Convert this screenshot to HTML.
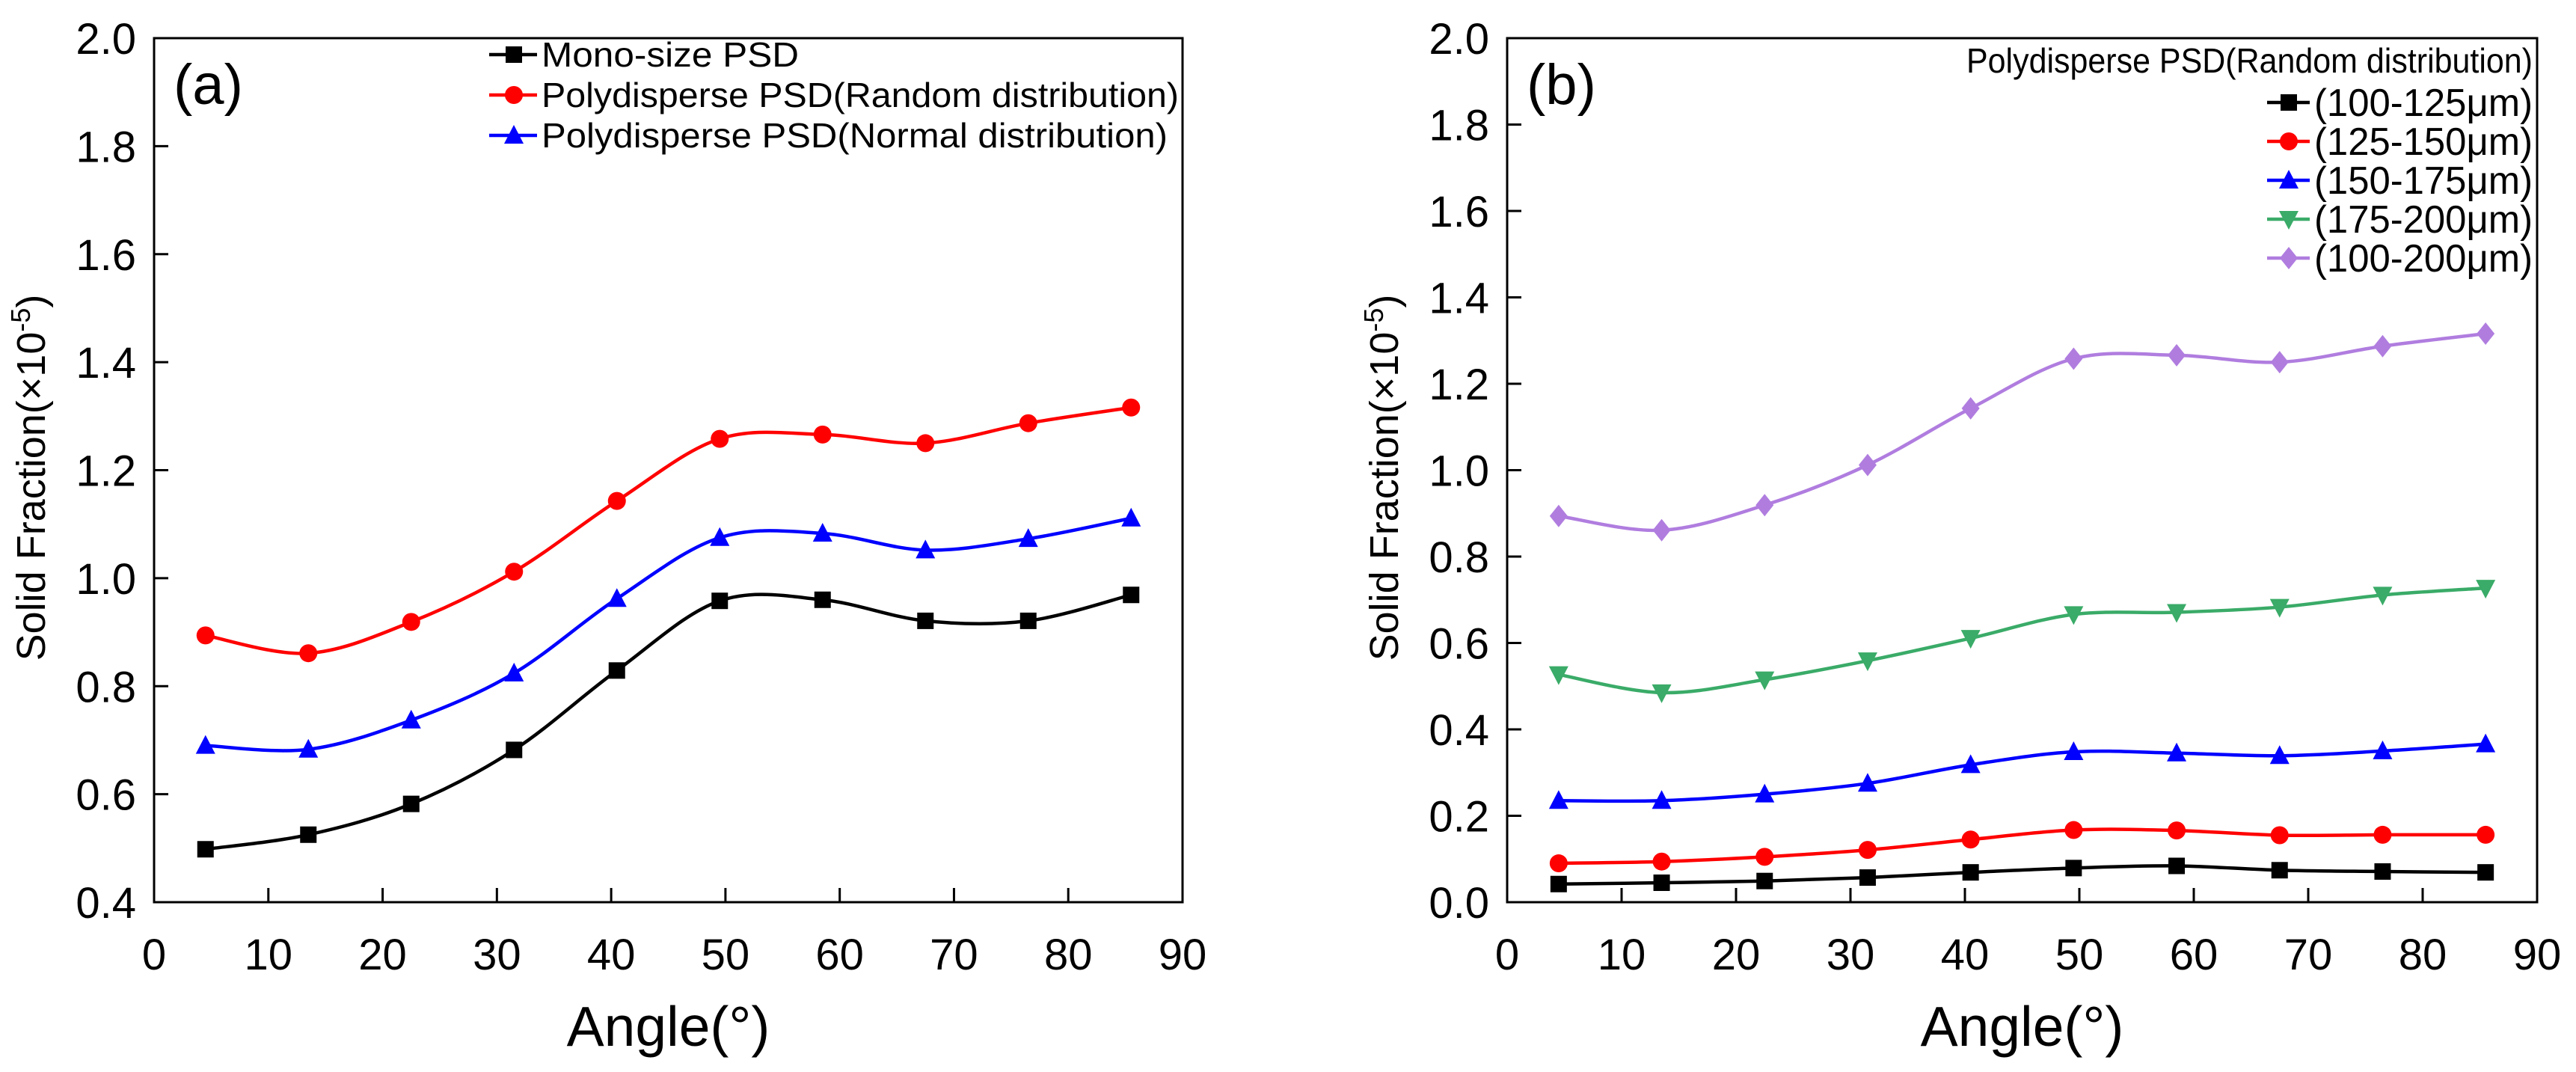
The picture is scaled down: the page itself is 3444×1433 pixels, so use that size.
<!DOCTYPE html>
<html><head><meta charset="utf-8"><style>
html,body{margin:0;padding:0;background:#fff;}
svg{display:block;font-family:"Liberation Sans",Arial,sans-serif;}
</style></head><body>
<svg id="fig" width="3444" height="1433" viewBox="0 0 3444 1433" xmlns="http://www.w3.org/2000/svg"></svg>
<script>
const angles = [4.5,13.5,22.5,31.5,40.5,49.5,58.5,67.5,76.5,85.5];
const monoSize = [0.498,0.525,0.582,0.682,0.829,0.958,0.960,0.921,0.921,0.969];
const randomDist = [0.894,0.861,0.919,1.012,1.143,1.258,1.266,1.250,1.287,1.316];
const normalDist = [0.690,0.683,0.737,0.824,0.962,1.075,1.083,1.052,1.073,1.111];
const r100_125 = [0.042,0.045,0.049,0.057,0.069,0.079,0.084,0.074,0.071,0.069];
const r125_150 = [0.090,0.094,0.105,0.121,0.145,0.167,0.166,0.155,0.156,0.156];
const r150_175 = [0.235,0.235,0.250,0.275,0.318,0.348,0.345,0.339,0.350,0.366];
const r175_200 = [0.527,0.485,0.515,0.559,0.611,0.666,0.671,0.683,0.711,0.727];
const r100_200 = [0.894,0.861,0.919,1.012,1.143,1.258,1.266,1.250,1.287,1.316];
const xTicks = [0,10,20,30,40,50,60,70,80,90];
const yTicksA = [0.4,0.6,0.8,1.0,1.2,1.4,1.6,1.8,2.0];
const yTicksB = [0.0,0.2,0.4,0.6,0.8,1.0,1.2,1.4,1.6,1.8,2.0];
const seriesNamesA = ["Mono-size PSD","Polydisperse PSD(Random distribution)","Polydisperse PSD(Normal distribution)"];
const seriesNamesB = ["(100-125μm)","(125-150μm)","(150-175μm)","(175-200μm)","(100-200μm)"];

const NS="http://www.w3.org/2000/svg";
const svg=document.getElementById('fig');
function mk(tag,attrs,parent){const e=document.createElementNS(NS,tag);for(const k in attrs)e.setAttribute(k,attrs[k]);(parent||svg).appendChild(e);return e;}

function marker(g,shape,cx,cy,color){
  const s=11;let e;
  if(shape==='square'){e=mk('rect',{x:cx-s,y:cy-s,width:2*s,height:2*s,fill:color},g);}
  else if(shape==='circle'){e=mk('circle',{cx:cx,cy:cy,r:s+1,fill:color},g);}
  else if(shape==='up'){e=mk('polygon',{points:`${cx},${cy-s-3} ${cx+s+2},${cy+s} ${cx-s-2},${cy+s}`,fill:color},g);}
  else if(shape==='down'){e=mk('polygon',{points:`${cx},${cy+s+3} ${cx+s+2},${cy-s} ${cx-s-2},${cy-s}`,fill:color},g);}
  else {e=mk('polygon',{points:`${cx},${cy-s-4} ${cx+s+1},${cy} ${cx},${cy+s+4} ${cx-s-1},${cy}`,fill:color},g);}
  
  
}
function splinePath(pts){
  let d=`M${pts[0][0]},${pts[0][1]}`;
  for(let i=0;i<pts.length-1;i++){
    const p0=pts[Math.max(i-1,0)],p1=pts[i],p2=pts[i+1],p3=pts[Math.min(i+2,pts.length-1)];
    const c1=[p1[0]+(p2[0]-p0[0])/6,p1[1]+(p2[1]-p0[1])/6];
    const c2=[p2[0]-(p3[0]-p1[0])/6,p2[1]-(p3[1]-p1[1])/6];
    d+=` C${c1[0]},${c1[1]} ${c2[0]},${c2[1]} ${p2[0]},${p2[1]}`;
  }
  return d;
}

function panel(opt){
  const {x0,x1,y0,y1,ymin,ymax,yTicks,label,series,prefix}=opt;
  const g=mk('g',{});
  
  
  const X=v=>x0+(v-0)/(90-0)*(x1-x0);
  const Y=v=>y1-(v-ymin)/(ymax-ymin)*(y1-y0);
  const frame=mk('rect',{x:x0,y:y0,width:x1-x0,height:y1-y0,fill:'none',stroke:'#000','stroke-width':3},g);
  
  
  xTicks.forEach(t=>{
    if(t>0&&t<90){const tk=mk('line',{x1:X(t),x2:X(t),y1:y1,y2:y1-19,stroke:'#000','stroke-width':3},g);
      }
    const tl=mk('text',{x:X(t),y:y1+90,'font-size':58,'text-anchor':'middle',fill:'#000'},g);
    tl.textContent=t;
    
  });
  yTicks.forEach(t=>{
    if(t>ymin&&t<ymax){const tk=mk('line',{x1:x0,x2:x0+19,y1:Y(t),y2:Y(t),stroke:'#000','stroke-width':3},g);
      }
    const tl=mk('text',{x:x0-24,y:Y(t)+21,'font-size':58,'text-anchor':'end',fill:'#000'},g);
    tl.textContent=t.toFixed(1);
    
  });
  const xt=mk('text',{x:(x0+x1)/2,y:y1+192,'font-size':75,'text-anchor':'middle',fill:'#000'},g);
  xt.textContent='Angle(°)';
  
  const ycx=x0-146, ycy=(y0+y1)/2+10;
  const yt=mk('text',{x:ycx,y:ycy,'font-size':54,'text-anchor':'middle',fill:'#000',transform:`rotate(-90 ${ycx} ${ycy})`},g);
  yt.innerHTML='Solid Fraction(×10<tspan dy="-20" font-size="36">-5</tspan><tspan dy="20">)</tspan>';
  
  const pl=mk('text',{x:x0+26,y:y0+88,'font-size':76,fill:'#000'},g);
  pl.textContent=label;
  
  series.forEach(s=>{
    const pts=angles.map((a,i)=>[X(a),Y(s.values[i])]);
    const p=mk('path',{d:splinePath(pts),fill:'none',stroke:s.color,'stroke-width':4.5},g);
    
    pts.forEach(q=>marker(g,s.shape,q[0],q[1],s.color));
  });
  return {g,X,Y};
}

panel({x0:206,x1:1581,y0:51,y1:1206,ymin:0.4,ymax:2.0,yTicks:yTicksA,label:'(a)',prefix:'a',
  series:[{name:'mono-size',values:monoSize,color:'#000',shape:'square'},
          {name:'random-distribution',values:randomDist,color:'#ff0000',shape:'circle'},
          {name:'normal-distribution',values:normalDist,color:'#0000ff',shape:'up'}]});
panel({x0:2015,x1:3392,y0:51,y1:1206,ymin:0.0,ymax:2.0,yTicks:yTicksB,label:'(b)',prefix:'b',
  series:[{name:'range-100-125',values:r100_125,color:'#000',shape:'square'},
          {name:'range-125-150',values:r125_150,color:'#ff0000',shape:'circle'},
          {name:'range-150-175',values:r150_175,color:'#0000ff',shape:'up'},
          {name:'range-175-200',values:r175_200,color:'#3aab68',shape:'down'},
          {name:'range-100-200',values:r100_200,color:'#b07ddf',shape:'diamond'}]});

// legend a
const la=mk('g',{});


const legA=[{c:'#000',s:'square'},{c:'#ff0000',s:'circle'},{c:'#0000ff',s:'up'}];
const rowsA=[73,127,181];
const lenA=[344,852,837];
legA.forEach((e,i)=>{
  const l=mk('line',{x1:654,x2:718,y1:rowsA[i],y2:rowsA[i],stroke:e.c,'stroke-width':4.5},la);
  
  marker(la,e.s,687,rowsA[i],e.c);
  const t=mk('text',{x:724,y:rowsA[i]+16,'font-size':46,fill:'#000',textLength:lenA[i],lengthAdjust:'spacingAndGlyphs'},la);
  t.textContent=seriesNamesA[i];
  
});
// legend b
const lb=mk('g',{});


const lt=mk('text',{x:3386,y:97,'font-size':46,'text-anchor':'end',fill:'#000',textLength:757,lengthAdjust:'spacingAndGlyphs'},lb);
lt.textContent='Polydisperse PSD(Random distribution)';

const legB=[{c:'#000',s:'square'},{c:'#ff0000',s:'circle'},{c:'#0000ff',s:'up'},{c:'#3aab68',s:'down'},{c:'#b07ddf',s:'diamond'}];
const rowsB=[137,189,241,293,345];
legB.forEach((e,i)=>{
  const l=mk('line',{x1:3031,x2:3088,y1:rowsB[i],y2:rowsB[i],stroke:e.c,'stroke-width':4.5},lb);
  
  marker(lb,e.s,3060,rowsB[i],e.c);
  const t=mk('text',{x:3386,y:rowsB[i]+18,'font-size':52,'text-anchor':'end',fill:'#000',textLength:292,lengthAdjust:'spacingAndGlyphs'},lb);
  t.textContent=seriesNamesB[i];
  
});
</script>
</body></html>
